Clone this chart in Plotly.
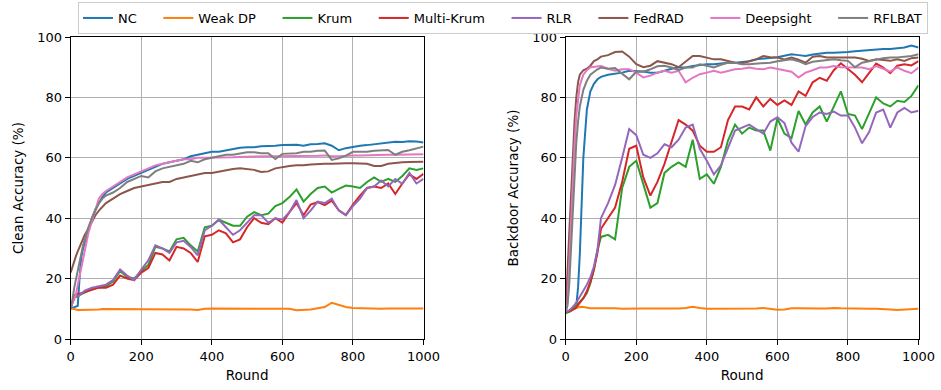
import plotly.graph_objects as go

rounds = [0, 5, 10, 15, 20, 25, 30, 35, 40, 50, 60, 70, 80, 90, 100,
          120, 140, 160, 180, 200, 220, 240, 260, 280, 300, 320, 340, 360, 380, 400,
          420, 440, 460, 480, 500, 520, 540, 560, 580, 600, 620, 640, 660, 680, 700,
          720, 740, 760, 780, 800, 820, 840, 860, 880, 900, 920, 940, 960, 980, 1000]

methods = ["NC", "Weak DP", "Krum", "Multi-Krum", "RLR", "FedRAD", "Deepsight", "RFLBAT"]
colors = ["#1f77b4", "#ff7f0e", "#2ca02c", "#d62728", "#9467bd", "#8c564b", "#e377c2", "#7f7f7f"]

# ---------------- Clean accuracy (%) ----------------
clean_nc = [10, 10.3, 10.5, 10.8, 11, 20, 27, 30, 32, 36.5, 40, 43, 45, 47, 48.5,
            50, 51.5, 53, 54, 55, 56, 57, 58, 58.5, 59, 59.5, 60.5, 61, 61.5, 62,
            62, 62.5, 63, 63.3, 63.5, 63.5, 63.8, 63.8, 64, 64.2, 64.3, 64.3, 64, 64.5, 64.6,
            64.8, 64, 62.5, 63.2, 63.7, 64, 64.2, 64.5, 64.8, 65, 65.3, 65.2, 65.5, 65.4, 65.1]
clean_weakdp = [10.2, 10, 9.8, 9.7, 9.6, 9.6, 9.6, 9.6, 9.6, 9.7, 9.7, 9.8, 9.8, 9.9, 9.9,
                9.9, 10, 10, 10, 10, 10, 10, 10, 10, 10, 10, 9.8, 9.6, 10, 10.1,
                10.1, 10.1, 10.1, 10.1, 10.1, 10.1, 10, 10, 10, 10, 10, 9.5, 9.6, 9.8, 10.2,
                10.6, 12, 11.4, 10.6, 10.3, 10.2, 10.1, 10, 10, 10.1, 10.2, 10.1, 10.1, 10.1, 10.1]
clean_krum = [10, 12.5, 14, 14, 14, 14.5, 14.8, 15, 15.5, 16, 16.5, 16.8, 17, 17.2, 17.5,
              19, 22.5, 20.5, 20, 22.5, 24.5, 30.5, 30, 29, 33, 33.5, 31, 29, 37, 37.5,
              39.5, 38.5, 37.5, 37.5, 40.5, 42, 41, 41.5, 44, 45, 47, 49.5, 45.5, 48, 50,
              50.5, 48.5, 49.7, 50.8, 50.5, 50, 52, 53.5, 52, 53, 52, 54, 56.5, 56, 56.5]
clean_multikrum = [10.5, 13, 14.5, 14.7, 15, 15, 15.2, 15.4, 15.5, 15.8, 16.3, 16.6, 17, 17, 17,
                   18, 21, 20, 19.5, 22, 23.5, 28.5, 28, 26, 30.5, 30, 28.5, 25.5, 34, 34.5,
                   36, 35, 32, 33, 37, 40, 38.5, 38, 40, 38.5, 42, 45, 41, 44.5, 45.3,
                   44.3, 45.8, 42.6, 41, 44.5, 47.5, 50, 50.5, 50, 51.5, 48, 51.5, 54.5, 53, 54.7]
clean_rlr = [10, 12.5, 14, 14, 14.2, 14.5, 15, 15.5, 16, 16.5, 17, 17.2, 17.5, 17.8, 18,
             19.5, 23, 21, 19.5, 23, 26, 31, 30, 28.5, 32, 32.5, 30.5, 27.7, 36, 37.5,
             39.5, 37, 34.5, 36, 38.5, 41, 41, 38.5, 40, 39.5, 42, 46, 40, 42.5, 45.5,
             45, 46.5, 42.5, 41, 44, 46.5, 50, 50.5, 52.5, 50.5, 53, 51.4, 55, 51.5, 53]
clean_fedrad = [22, 24, 26, 27.5, 29, 30.5, 32, 33, 34.5, 36.5, 39, 41, 42.5, 43.8, 45,
                46.5, 48, 49, 50, 50.5, 51, 51.5, 52, 52, 53, 53.5, 54, 54.5, 55, 55,
                55.5, 56, 56.3, 56.5, 56.3, 56, 55.3, 55.5, 56.5, 57, 57.3, 57.5, 57.5, 57.8, 58,
                58, 58, 58.2, 58.2, 58.2, 58.2, 58, 57.3, 57.3, 58, 58.3, 58.5, 58.6, 58.7, 58.7]
clean_deepsight = [11, 12, 13, 15, 18, 21, 24, 27, 30, 35, 39, 43, 46.5, 48, 49,
                   50.5, 52, 53.5, 54.5, 55.5, 56.5, 57.5, 58, 58.5, 59, 59.5, 59.5, 60, 60, 60,
                   60, 60.2, 60.2, 60.3, 60.4, 60.4, 60.5, 60.5, 60.5, 60.5, 60.6, 60.6, 60.6, 60.7, 60.7,
                   60.8, 60.5, 60.5, 60.7, 60.8, 60.8, 60.9, 61, 61, 61, 61, 61.1, 61.2, 61.2, 61.2]
clean_rflbat = [10.5, 13, 17, 20, 23, 26, 28.5, 31, 33, 37, 40, 42.5, 45, 46.5, 47.5,
                48.5, 50, 52, 53, 54, 53.5, 55.5, 56.5, 57, 57.5, 58, 59, 58.5, 59.5, 60,
                60.5, 61, 61, 61.3, 61.8, 61.8, 61.5, 61.5, 59.6, 61.3, 61.3, 61.5, 62, 62, 62.3,
                62.4, 59.3, 59.8, 60.7, 62, 62, 62, 62.3, 62.5, 62.6, 61, 62, 62.5, 63, 63.7]

# ---------------- Backdoor accuracy (%) ----------------
bd_nc = [9, 9, 9, 9.5, 10, 10.5, 11, 17, 28, 60, 76, 82, 84.5, 86, 86.8,
         87.5, 87.8, 88.2, 88.8, 88.8, 88.6, 88.2, 88.2, 88.8, 89.5, 89.9, 89.9, 90.4, 90.8, 91,
         91, 91.3, 91.5, 91.5, 91.8, 92, 92.6, 92.8, 93, 93.3, 93.8, 94.3, 94, 93.7, 94.2,
         94.5, 94.8, 94.8, 94.8, 95, 95.3, 95.5, 95.8, 96, 96, 96, 96.2, 96.5, 97.2, 96.5]
bd_weakdp = [9, 9.2, 9.3, 9.5, 9.7, 10, 10.3, 10.5, 10.7, 10.6, 10.3, 10.2, 10.2, 10.2, 10.2,
             10.3, 10.2, 10, 10.1, 10.1, 10.1, 10.1, 10.1, 10.1, 10, 10.1, 10.3, 10.7, 10.3, 10,
             10, 10, 10, 10, 10, 10, 10.1, 10.3, 10, 9.7, 9.8, 10.2, 10.2, 10.1, 10.2,
             10.1, 10.1, 10.3, 10.2, 10.1, 10.1, 10, 10, 10, 10, 9.8, 9.6, 9.7, 9.9, 10]
bd_krum = [8.5, 8.8, 9, 9.3, 10, 10.5, 11, 11.8, 12.3, 13.5, 15.2, 18.5, 23, 29.5, 33.8,
           34.5, 33, 50, 57, 59, 51, 43.5, 45, 55, 57, 58.5, 57, 66, 53, 54.5,
           51.4, 57, 65.7, 71, 68, 70, 69, 69, 62.4, 73, 68, 66.5, 75.5, 71, 75,
           77, 72, 77, 82, 74.5, 74, 69.5, 74.5, 80, 78, 77, 78.9, 78.5, 80.5, 84]
bd_multikrum = [9, 9, 9.2, 9.4, 9.6, 10, 10.5, 11.2, 11.8, 13.5, 15.8, 19, 23, 28.5, 36.5,
                40, 43.5, 52, 63, 64, 53.5, 47.5, 52, 58, 65.5, 72.5, 71, 69, 64, 62,
                62, 63.5, 72.5, 77, 77, 76, 80, 77, 79.5, 77.5, 79, 77.5, 82, 80.5, 85,
                86.5, 85.5, 89, 91.3, 89.5, 87.5, 85, 88, 91.2, 89.9, 88, 90.5, 91, 90.6, 92]
bd_rlr = [9, 9.2, 9.5, 10, 10.5, 11.3, 12, 13, 14, 16, 18, 20.5, 24, 29.5, 40,
          45, 51, 60, 69.5, 67.5, 61, 60, 61.5, 64.5, 63.5, 66, 70, 71, 63, 59,
          54.5, 57.5, 63, 69, 70, 71, 69.5, 68, 72, 73.4, 71.5, 65, 62, 70.5, 73.5,
          75, 74.5, 75.3, 74, 74, 70, 64.8, 68.5, 75, 76, 70, 75, 76.5, 75, 75.6]
bd_fedrad = [9, 20, 35, 47, 60, 72, 80, 85, 87.5, 89, 89.5, 90.5, 92, 92.6, 93.5,
             94, 95, 95.2, 93.5, 91, 90, 90.5, 92, 91.5, 91, 90, 92, 93.7, 93.7, 93.2,
             92.6, 92.6, 92, 91.5, 91.3, 92, 92.6, 93.7, 93.3, 93.2, 92.6, 93.2, 92.5, 91.5, 93.5,
             93.7, 93.2, 93.2, 93.2, 93.2, 93.2, 92.8, 92.1, 92.6, 92.3, 92.1, 92.6, 92.1, 93, 93.2]
bd_deepsight = [9, 12, 25, 40, 52, 64, 74, 80, 84, 87.5, 89, 90, 90.2, 90.3, 90.4,
                89.5, 88.8, 89.3, 89.3, 88.2, 86.6, 87.2, 88.2, 88.8, 88.2, 88.8, 85, 86.5, 87.7, 88.2,
                88.8, 88.2, 88.8, 89.3, 89.5, 89.9, 89.5, 89.3, 89.9, 89.5, 89, 88.5, 86.6, 88.2, 89,
                89.9, 89.9, 90.4, 90, 89.9, 89.9, 89.9, 89.3, 90.4, 89.5, 88.5, 89.9, 88.8, 88, 89.9]
bd_rflbat = [9, 11, 18, 30, 44, 55, 65, 72, 77, 82.5, 85.5, 87.5, 88.5, 89.3, 89.9,
             89.5, 89.7, 88, 86, 88.5, 88.5, 89.3, 90.3, 90.5, 89.9, 89, 89.9, 89.9, 91, 90.5,
             89.9, 90.8, 91.5, 91.5, 91, 91, 91.2, 91.5, 91.5, 92, 92.3, 92.6, 92, 91, 91.8,
             92.1, 92.3, 92.6, 92.3, 92.1, 90, 91.5, 92, 92.6, 93, 93.2, 93.2, 93.5, 93.7, 94.3]

clean = [clean_nc, clean_weakdp, clean_krum, clean_multikrum, clean_rlr,
         clean_fedrad, clean_deepsight, clean_rflbat]
backdoor = [bd_nc, bd_weakdp, bd_krum, bd_multikrum, bd_rlr,
            bd_fedrad, bd_deepsight, bd_rflbat]

x_ticks = [0, 200, 400, 600, 800, 1000]
y_ticks = [0, 20, 40, 60, 80, 100]

FONT = "DejaVu Sans"
pad = "\u00a0" * 4

fig = go.Figure()
for i, name in enumerate(methods):
    label = name + (pad if i < len(methods) - 1 else "")
    fig.add_trace(go.Scatter(x=rounds, y=clean[i], mode="lines", name=label,
                             line=dict(color=colors[i], width=2), legendgroup=name,
                             xaxis="x", yaxis="y"))
for i, name in enumerate(methods):
    fig.add_trace(go.Scatter(x=rounds, y=backdoor[i], mode="lines", name=name,
                             line=dict(color=colors[i], width=2), legendgroup=name,
                             showlegend=False, xaxis="x2", yaxis="y2"))

W, H = 941, 390
ydom = [(H - 339) / H, (H - 37) / H]

def xaxis(dom, anchor):
    return dict(domain=dom, anchor=anchor, range=[0, 1000], tickvals=x_ticks,
                automargin=False,
                showline=True, linecolor="black", linewidth=1, mirror=True,
                ticks="outside", ticklen=5, tickwidth=1, tickcolor="black",
                showgrid=True, gridcolor="#b0b0b0", gridwidth=1, zeroline=False,
                tickfont=dict(family=FONT, size=13, color="black"),
                title=dict(text="Round", font=dict(family=FONT, size=13.5, color="black"), standoff=7))

def yaxis(anchor, title):
    return dict(domain=ydom, anchor=anchor, range=[0, 100], tickvals=y_ticks,
                automargin=False,
                showline=True, linecolor="black", linewidth=1, mirror=True,
                ticks="outside", ticklen=5, tickwidth=1, tickcolor="black",
                showgrid=True, gridcolor="#b0b0b0", gridwidth=1, zeroline=False,
                tickfont=dict(family=FONT, size=13, color="black"),
                title=dict(text=title, font=dict(family=FONT, size=13.5, color="black"), standoff=10))

fig.update_layout(
    width=W, height=H,
    margin=dict(l=0, r=0, t=0, b=0, autoexpand=False),
    paper_bgcolor="white", plot_bgcolor="white",
    font=dict(family=FONT, size=13, color="black"),
    xaxis=xaxis([70.7 / W, 423.5 / W], "y"),
    yaxis=yaxis("x", "Clean Accuracy (%)"),
    xaxis2=xaxis([565.7 / W, 918.5 / W], "y2"),
    yaxis2=yaxis("x2", "Backdoor Accuracy (%)"),
    legend=dict(orientation="h", x=78 / W, xanchor="left", y=1 - 2 / H, yanchor="top",
                bordercolor="#cccccc", borderwidth=1, bgcolor="white",
                font=dict(family=FONT, size=13, color="black"),
                itemwidth=30, tracegroupgap=0),
    showlegend=True,
)

fig.write_html("out.html")
